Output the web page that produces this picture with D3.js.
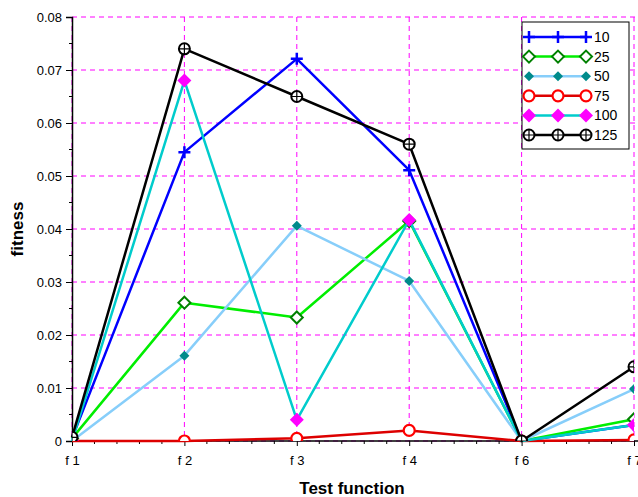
<!DOCTYPE html>
<html><head><meta charset="utf-8">
<script src="https://cdn.jsdelivr.net/npm/d3@7"></script>
<style>body{margin:0;background:#fff;}svg{display:block;font-family:Arial,"Liberation Sans",sans-serif;}</style>
</head><body><svg id="c" width="638" height="497"></svg>
<script>
const categories = ["f 1","f 2","f 3","f 4","f 6","f 7"];
const yTicks = [0,0.01,0.02,0.03,0.04,0.05,0.06,0.07,0.08];
const seriesNames = ["10","25","50","75","100","125"];
const s10  = [0.0005,0.0545,0.0721,0.0511,0,0.0030];
const s25  = [0.0005,0.0261,0.0233,0.0415,0,0.0041];
const s50  = [0,0.0161,0.0406,0.0302,0,0.0098];
const s75  = [0,0,0.0005,0.0020,0,0.0002];
const s100 = [0,0.0680,0.0040,0.0417,0,0.0030];
const s125 = [0.0007,0.0740,0.0650,0.0560,0,0.0140];
const seriesValues = [s10,s25,s50,s75,s100,s125];
const lineColors = ["#0000ff","#00ee00","#87cefa","#dd0000","#00cccc","#000000"];
const markerTypes = ["plus","diamondOpen","diamondSmall","circleOpen","diamondBig","circlePlus"];

const svg = d3.select("#c");
const x = d3.scalePoint().domain(categories).range([72,634]);
const y = d3.scaleLinear().domain([0,0.08]).range([441,17]);

svg.append("defs").append("clipPath").attr("id","plotclip")
  .append("rect").attr("x",72).attr("y",17).attr("width",562).attr("height",424);

// grid
const g = svg.append("g");
g.selectAll("line.h").data(yTicks).join("line")
  .attr("x1",72).attr("x2",638).attr("y1",d=>y(d)).attr("y2",d=>y(d))
  .attr("stroke","#ff00ff").attr("stroke-width",1).attr("stroke-dasharray","5,4");
g.selectAll("line.v").data(categories).join("line")
  .attr("x1",d=>x(d)).attr("x2",d=>x(d)).attr("y1",17).attr("y2",441)
  .attr("stroke","#ff00ff").attr("stroke-width",1).attr("stroke-dasharray","5,4");

// minor ticks
const step = x.step();
const xMinor = [];
categories.forEach((c,i)=>{ if(i<categories.length-1) for(let k=1;k<5;k++) xMinor.push(x(c)+step*k/5); });
svg.selectAll("line.xm").data(xMinor).join("line")
  .attr("x1",d=>d).attr("x2",d=>d).attr("y1",441).attr("y2",444)
  .attr("stroke","#000").attr("stroke-width",1);
const yMinor = d3.range(0.005,0.08,0.01);
svg.selectAll("line.ym").data(yMinor).join("line")
  .attr("x1",69).attr("x2",72).attr("y1",d=>y(d)).attr("y2",d=>y(d))
  .attr("stroke","#000").attr("stroke-width",1);

// axes
const xAxis = svg.append("g").attr("transform","translate(0,441)")
  .call(d3.axisBottom(x).tickSize(5).tickPadding(10));
const yAxis = svg.append("g").attr("transform","translate(72,0)")
  .call(d3.axisLeft(y).tickValues(yTicks).tickSize(6).tickPadding(4).tickFormat(d=>d===0?"0":d3.format(".2f")(d)));
[xAxis,yAxis].forEach(a=>{
  a.select(".domain").attr("stroke","#000").attr("stroke-width",1.5);
  a.selectAll(".tick line").attr("stroke","#000").attr("stroke-width",1);
  a.selectAll("text").attr("font-size",13).attr("fill","#000").attr("font-family","Arial,'Liberation Sans',sans-serif");
});
xAxis.select(".domain").attr("d","M72,0H638");

// titles
svg.append("text").attr("x",352).attr("y",494).attr("text-anchor","middle")
  .attr("font-size",17).attr("font-weight","bold").text("Test function");
svg.append("text").attr("transform","translate(23,229) rotate(-90)").attr("text-anchor","middle")
  .attr("font-size",17).attr("font-weight","bold").text("fitness");

function drawMarker(sel,type,px,py){
  const m = sel.append("g").attr("transform",`translate(${px},${py})`);
  if(type==="plus"){
    m.append("path").attr("d","M-6,0H6M0,-6V6").attr("stroke","#0000ff").attr("stroke-width",2.5);
  } else if(type==="diamondOpen"){
    m.append("path").attr("d","M0,-6L6,0L0,6L-6,0Z").attr("fill","#fff").attr("stroke","#008000").attr("stroke-width",2);
  } else if(type==="diamondSmall"){
    m.append("path").attr("d","M0,-5L5,0L0,5L-5,0Z").attr("fill","#008b8b");
  } else if(type==="circleOpen"){
    m.append("circle").attr("r",5.5).attr("fill","#fff").attr("stroke","#ff0000").attr("stroke-width",2.2);
  } else if(type==="diamondBig"){
    m.append("path").attr("d","M0,-7L7,0L0,7L-7,0Z").attr("fill","#ff00ff");
  } else if(type==="circlePlus"){
    m.append("circle").attr("r",5.5).attr("fill","#fff").attr("stroke","#000").attr("stroke-width",2);
    m.append("path").attr("d","M-5.5,0H5.5M0,-5.5V5.5").attr("stroke","#000").attr("stroke-width",1.2);
  }
}

const line = d3.line().x((d,i)=>x(categories[i])).y(d=>y(d));
seriesValues.forEach((vals,si)=>{
  const sg = svg.append("g");
  sg.append("path").datum(vals).attr("d",line).attr("fill","none")
    .attr("stroke",lineColors[si]).attr("stroke-width",2.5).attr("stroke-linejoin","round");
  const mg = sg.append("g").attr("clip-path","url(#plotclip)");
  vals.forEach((v,i)=>drawMarker(mg,markerTypes[si],x(categories[i]),y(v)));
});

// legend
const lg = svg.append("g");
lg.append("rect").attr("x",522).attr("y",22).attr("width",107).attr("height",127)
  .attr("fill","#fff").attr("stroke","#000").attr("stroke-width",1);
seriesNames.forEach((n,i)=>{
  const ly = 37 + i*19.6;
  lg.append("line").attr("x1",529).attr("x2",586).attr("y1",ly).attr("y2",ly)
    .attr("stroke",lineColors[i]).attr("stroke-width",2.5);
  [529,558,586].forEach(mx=>drawMarker(lg,markerTypes[i],mx,ly));
  lg.append("text").attr("x",594).attr("y",ly+5).attr("font-size",14).text(n);
});
</script></body></html>
